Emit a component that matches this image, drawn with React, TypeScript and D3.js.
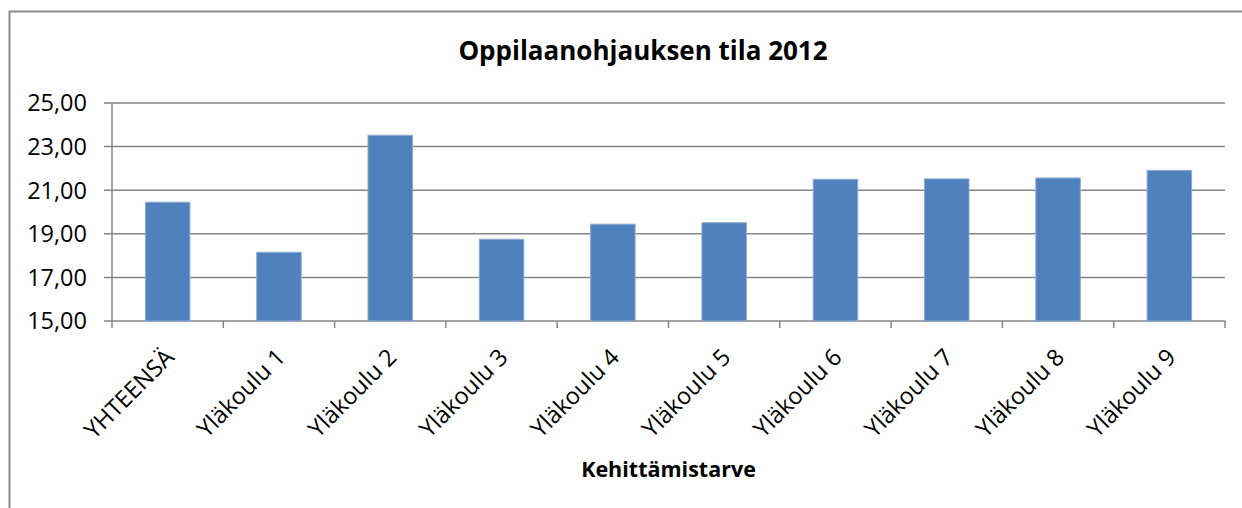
import React, { useEffect, useRef } from 'react'
import * as d3 from 'd3'

const categories = ['YHTEENSÄ', 'Yläkoulu 1', 'Yläkoulu 2', 'Yläkoulu 3', 'Yläkoulu 4', 'Yläkoulu 5', 'Yläkoulu 6', 'Yläkoulu 7', 'Yläkoulu 8', 'Yläkoulu 9']
const values = [20.45, 18.15, 23.52, 18.75, 19.44, 19.51, 21.5, 21.52, 21.56, 21.91]
const yTicks = [15, 17, 19, 21, 23, 25]
const title = 'Oppilaanohjauksen tila 2012'
const xTitle = 'Kehittämistarve'

const W = 1242
const H = 508
const font = '"Open Sans", "Noto Sans", sans-serif'

export default function App() {
  const ref = useRef<SVGSVGElement>(null)

  useEffect(() => {
    const svg = d3.select(ref.current)
    svg.selectAll('*').remove()

    const left = 112, right = 1225, top = 103, bottom = 321

    // chart border (runs off the picture right and bottom)
    svg.append('rect')
      .attr('x', 9.5).attr('y', 11.5)
      .attr('width', 1300).attr('height', 600)
      .attr('fill', '#fff')
      .attr('stroke', '#8a8a8a').attr('stroke-width', 2)

    const x = d3.scaleBand<string>()
      .domain(categories)
      .range([left, right])
      .paddingInner(0.6)
      .paddingOuter(0.3)

    const y = d3.scaleLinear().domain([15, 25]).range([bottom, top])

    // gridlines
    svg.append('g').selectAll('line')
      .data(yTicks)
      .enter()
      .append('line')
      .attr('x1', left - 8).attr('x2', right)
      .attr('y1', d => y(d)).attr('y2', d => y(d))
      .attr('stroke', '#868686').attr('stroke-width', 1.5)

    // y axis line
    svg.append('line')
      .attr('x1', left).attr('x2', left)
      .attr('y1', top).attr('y2', bottom)
      .attr('stroke', '#868686').attr('stroke-width', 1.5)

    // y labels
    svg.append('g').selectAll('text')
      .data(yTicks)
      .enter()
      .append('text')
      .attr('x', left - 25)
      .attr('y', d => y(d))
      .attr('dy', '0.36em')
      .attr('text-anchor', 'end')
      .attr('font-family', font)
      .attr('font-size', 23.5)
      .attr('fill', '#000')
      .text(d => d.toFixed(2).replace('.', ','))

    // bars
    svg.append('g').selectAll('rect')
      .data(values)
      .enter()
      .append('rect')
      .attr('x', (d, i) => x(categories[i]) as number)
      .attr('y', d => y(d))
      .attr('width', x.bandwidth())
      .attr('height', d => bottom - y(d))
      .attr('fill', '#4f81bd')
      .attr('stroke', '#8eabd6').attr('stroke-width', 1)

    // x category tick marks
    const step = (right - left) / categories.length
    svg.append('g').selectAll('line')
      .data(d3.range(categories.length + 1))
      .enter()
      .append('line')
      .attr('x1', d => left + d * step).attr('x2', d => left + d * step)
      .attr('y1', bottom).attr('y2', bottom + 7)
      .attr('stroke', '#868686').attr('stroke-width', 1.5)

    // x labels, rotated
    svg.append('g').selectAll('text')
      .data(categories)
      .enter()
      .append('text')
      .attr('transform', d => {
        const cx = (x(d) as number) + x.bandwidth() / 2 + 2
        return 'translate(' + cx + ',' + (bottom + 32) + ') rotate(-45)'
      })
      .attr('text-anchor', 'end')
      .attr('dy', '0.35em')
      .attr('font-family', font)
      .attr('font-size', 23.5)
      .attr('fill', '#000')
      .text(d => d)

    // titles
    svg.append('text')
      .attr('x', 643).attr('y', 60)
      .attr('text-anchor', 'middle')
      .attr('font-family', font)
      .attr('font-weight', 'bold')
      .attr('font-size', 26)
      .text(title)

    svg.append('text')
      .attr('x', (left + right) / 2).attr('y', 477)
      .attr('text-anchor', 'middle')
      .attr('font-family', font)
      .attr('font-weight', 'bold')
      .attr('font-size', 21.5)
      .text(xTitle)
  }, [])

  return (
    <svg ref={ref} width={W} height={H} style={{ position: 'absolute', left: 0, top: 0, background: '#fff' }} />
  )
}
